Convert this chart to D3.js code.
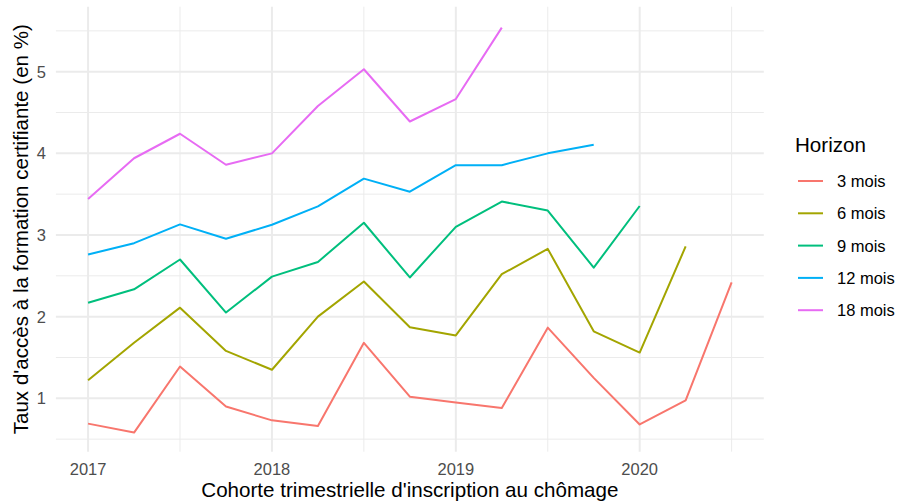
<!DOCTYPE html>
<html>
<head>
<meta charset="utf-8">
<script src="https://cdn.jsdelivr.net/npm/d3@7"></script>
<style>
  body { margin: 0; background: #fff; }
  svg text { font-family: "Liberation Sans", Arial, sans-serif; }
</style>
</head>
<body>
<div id="chart"></div>
<script>
// Quarterly cohorts (year + quarter offset)
const quarters = [2017, 2017.25, 2017.5, 2017.75, 2018, 2018.25, 2018.5, 2018.75,
                  2019, 2019.25, 2019.5, 2019.75, 2020, 2020.25, 2020.5];

// Rates per horizon (in %)
const mois3  = [0.69, 0.58, 1.39, 0.90, 0.73, 0.66, 1.68, 1.02, 0.95, 0.88, 1.865, 1.25, 0.68, 0.975, 2.42];
const mois6  = [1.22, 1.68, 2.11, 1.58, 1.35, 2.00, 2.43, 1.87, 1.77, 2.52, 2.83, 1.82, 1.56, 2.86];
const mois9  = [2.17, 2.335, 2.70, 2.05, 2.49, 2.67, 3.15, 2.48, 3.10, 3.41, 3.30, 2.60, 3.355];
const mois12 = [2.76, 2.90, 3.13, 2.955, 3.125, 3.35, 3.69, 3.53, 3.855, 3.855, 4.00, 4.105];
const mois18 = [3.44, 3.94, 4.24, 3.86, 4.00, 4.58, 5.03, 4.39, 4.665, 5.54];

const seriesNames = ["3 mois", "6 mois", "9 mois", "12 mois", "18 mois"];
const seriesValues = [mois3, mois6, mois9, mois12, mois18];
const colors = ["#F8766D", "#A3A500", "#00BF7D", "#00B0F6", "#E76BF3"];

const xMajor = [2017, 2018, 2019, 2020];
const xMinor = [2017.5, 2018.5, 2019.5, 2020.5];
const yMajor = [1, 2, 3, 4, 5];
const yMinor = [0.5, 1.5, 2.5, 3.5, 4.5, 5.5];

const width = 899, height = 503;
const panel = {left: 55.9, right: 763.8, top: 6.7, bottom: 451.7};

const svg = d3.select("#chart").append("svg")
    .attr("width", width)
    .attr("height", height);

const x = d3.scaleLinear().domain([2016.825, 2020.675]).range([panel.left, panel.right]);
const y = d3.scaleLinear().domain([0.346, 5.796]).range([panel.bottom, panel.top]);

// Gridlines (minor first, then major)
const grid = svg.append("g");
grid.selectAll(".ymin").data(yMinor).enter().append("line")
    .attr("x1", panel.left).attr("x2", panel.right)
    .attr("y1", d => y(d)).attr("y2", d => y(d))
    .attr("stroke", "#EBEBEB").attr("stroke-width", 1);
grid.selectAll(".xmin").data(xMinor).enter().append("line")
    .attr("y1", panel.top).attr("y2", panel.bottom)
    .attr("x1", d => x(d)).attr("x2", d => x(d))
    .attr("stroke", "#EBEBEB").attr("stroke-width", 1);
grid.selectAll(".ymaj").data(yMajor).enter().append("line")
    .attr("x1", panel.left).attr("x2", panel.right)
    .attr("y1", d => y(d)).attr("y2", d => y(d))
    .attr("stroke", "#EBEBEB").attr("stroke-width", 2);
grid.selectAll(".xmaj").data(xMajor).enter().append("line")
    .attr("y1", panel.top).attr("y2", panel.bottom)
    .attr("x1", d => x(d)).attr("x2", d => x(d))
    .attr("stroke", "#EBEBEB").attr("stroke-width", 2);

// Lines
const line = d3.line()
    .x((d, i) => x(quarters[i]))
    .y(d => y(d));

svg.selectAll(".series")
    .data(seriesValues)
    .enter().append("path")
    .attr("d", d => line(d))
    .attr("fill", "none")
    .attr("stroke", (d, i) => colors[i])
    .attr("stroke-width", 2)
    .attr("stroke-linejoin", "round");

// Axis tick labels
svg.selectAll(".xlab").data(xMajor).enter().append("text")
    .attr("x", d => x(d)).attr("y", 474.5)
    .attr("text-anchor", "middle")
    .attr("font-size", 16.5).attr("fill", "#4D4D4D")
    .text(d => d);

svg.selectAll(".ylab").data(yMajor).enter().append("text")
    .attr("x", 46).attr("y", d => y(d) + 6)
    .attr("text-anchor", "end")
    .attr("font-size", 16.5).attr("fill", "#4D4D4D")
    .text(d => d);

// Axis titles
svg.append("text")
    .attr("x", (panel.left + panel.right) / 2).attr("y", 497)
    .attr("text-anchor", "middle")
    .attr("font-size", 20.6).attr("fill", "#000")
    .text("Cohorte trimestrielle d'inscription au chômage");

svg.append("text")
    .attr("transform", "translate(28," + ((panel.top + panel.bottom) / 2) + ") rotate(-90)")
    .attr("text-anchor", "middle")
    .attr("font-size", 20.6).attr("fill", "#000")
    .text("Taux d'accès à la formation certifiante (en %)");

// Legend
const legend = svg.append("g");
legend.append("text")
    .attr("x", 795).attr("y", 152)
    .attr("font-size", 20.6).attr("fill", "#000")
    .text("Horizon");

const keys = legend.selectAll(".key").data(seriesNames).enter().append("g")
    .attr("transform", (d, i) => "translate(0," + (181 + i * 32.3) + ")");
keys.append("line")
    .attr("x1", 798).attr("x2", 823)
    .attr("stroke", (d, i) => colors[i]).attr("stroke-width", 2);
keys.append("text")
    .attr("x", 837).attr("y", 6)
    .attr("font-size", 16.5).attr("fill", "#000")
    .text(d => d);
</script>
</body>
</html>
